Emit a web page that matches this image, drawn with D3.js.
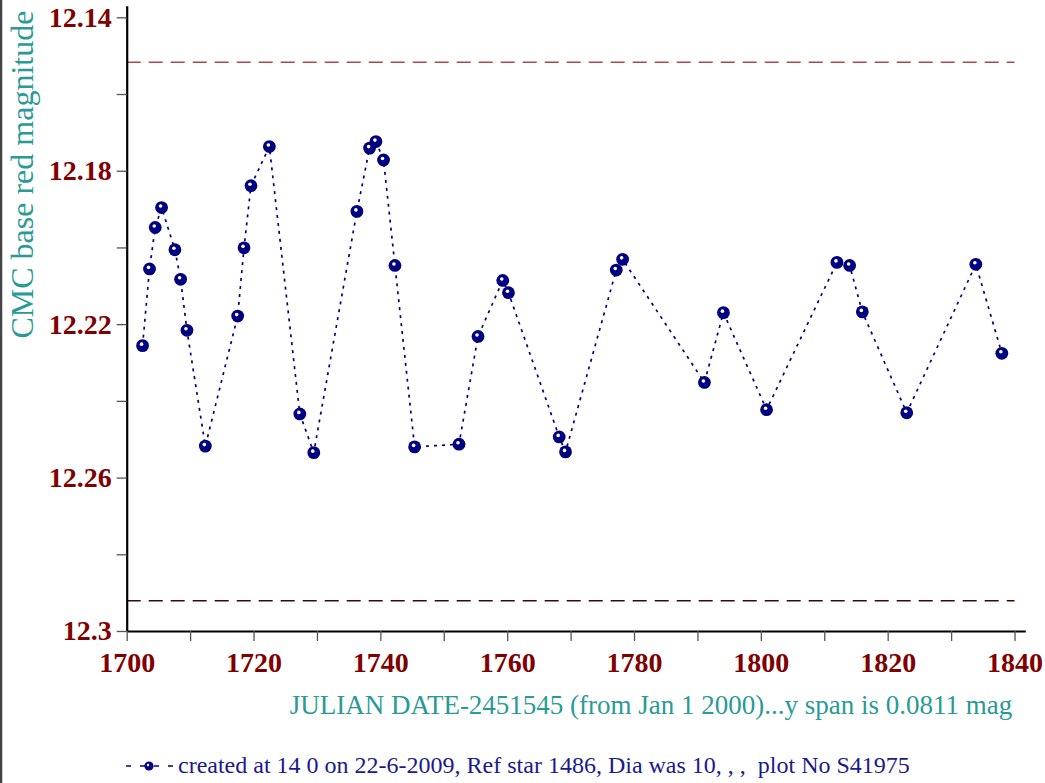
<!DOCTYPE html>
<html>
<head>
<meta charset="utf-8">
<script src="https://cdn.jsdelivr.net/npm/d3@7"></script>
<style>
  html, body { margin: 0; padding: 0; background: #fff; }
  svg { display: block; }
</style>
</head>
<body>
<svg id="chart" width="1045" height="783"></svg>
<script>
// ---- data ----
const julianDays = [1702.5, 1703.6, 1704.5, 1705.5, 1707.6, 1708.5, 1709.5, 1712.4,
  1717.5, 1718.5, 1719.6, 1722.5, 1727.3, 1729.5, 1736.3, 1738.3, 1739.3, 1740.5,
  1742.3, 1745.4, 1752.4, 1755.4, 1759.3, 1760.2, 1768.2, 1769.2, 1777.2, 1778.2,
  1791.1, 1794.1, 1800.9, 1812.0, 1814.0, 1816.0, 1823.0, 1833.9, 1838.0];
const magnitudes = [12.2256, 12.2056, 12.1948, 12.1896, 12.2006, 12.2083, 12.2216, 12.2518,
  12.2179, 12.2001, 12.1839, 12.1737, 12.2434, 12.2535, 12.1906, 12.1741, 12.1724, 12.1772,
  12.2047, 12.2520, 12.2513, 12.2232, 12.2086, 12.2118, 12.2494, 12.2533, 12.2059, 12.2031,
  12.2352, 12.2170, 12.2423, 12.2039, 12.2047, 12.2168, 12.2431, 12.2044, 12.2276];
const upperLimit = 12.1517;
const lowerLimit = 12.2921;
const yTickValues = [12.14, 12.16, 12.18, 12.20, 12.22, 12.24, 12.26, 12.28, 12.30];
const yTickLabels = ["12.14", "", "12.18", "", "12.22", "", "12.26", "", "12.3"];
const xTickValues = [1700, 1710, 1720, 1730, 1740, 1750, 1760, 1770, 1780, 1790, 1800, 1810, 1820, 1830, 1840];
const xTickLabels = ["1700", "", "1720", "", "1740", "", "1760", "", "1780", "", "1800", "", "1820", "", "1840"];
const yTitle = "CMC base red magnitude";
const xTitle = "JULIAN DATE-2451545 (from Jan 1 2000)...y span is 0.0811 mag";
const legendText = "created at 14 0 on 22-6-2009, Ref star 1486, Dia was 10, , ,  plot No S41975";

const points = julianDays.map((d, i) => ({ jd: d, mag: magnitudes[i] }));

// ---- layout ----
const svg = d3.select("#chart");
const serif = "'Liberation Serif', 'Times New Roman', serif";
const labelColor = "#800000";
const titleColor = "#2a9a94";
const navy = "#000080";

const x = d3.scaleLinear().domain([1700, 1841.7]).range([126.7, 1025.3]);
const y = d3.scaleLinear().domain([12.137, 12.30]).range([5.8, 631]);

// left frame line
svg.append("line")
  .attr("x1", 1).attr("x2", 1).attr("y1", 0).attr("y2", 783)
  .attr("stroke", "#444").attr("stroke-width", 2.5);

// reference dashed lines
svg.append("line")
  .attr("x1", x(1700)).attr("x2", x(1840))
  .attr("y1", y(upperLimit)).attr("y2", y(upperLimit))
  .attr("stroke", "#a84a4a").attr("stroke-width", 1.4)
  .attr("stroke-dasharray", "14,8");
svg.append("line")
  .attr("x1", x(1700)).attr("x2", x(1840))
  .attr("y1", y(lowerLimit)).attr("y2", y(lowerLimit))
  .attr("stroke", "#3a0808").attr("stroke-width", 1.4)
  .attr("stroke-dasharray", "14,8");

// axes
const yAxis = d3.axisLeft(y).tickValues(yTickValues).tickSize(10).tickSizeOuter(0)
  .tickPadding(5).tickFormat((d, i) => yTickLabels[i]);
const xAxis = d3.axisBottom(x).tickValues(xTickValues).tickSize(10).tickSizeOuter(0)
  .tickPadding(11).tickFormat((d, i) => xTickLabels[i]);

function styleAxis(g) {
  g.select(".domain").attr("stroke", "#000").attr("stroke-width", 2.2);
  g.selectAll(".tick line").attr("stroke", "#555").attr("stroke-width", 1.3);
  g.selectAll(".tick text")
    .attr("fill", labelColor)
    .style("font-family", serif)
    .style("font-weight", "bold")
    .style("font-size", "28px");
}
svg.append("g").attr("transform", `translate(${x(1700)},0)`).call(yAxis).call(styleAxis);
svg.append("g").attr("transform", `translate(0,${y(12.30)})`).call(xAxis).call(styleAxis);

// titles
svg.append("text")
  .attr("transform", `translate(33,${(y(12.137) + y(12.225)) / 2 + 0}) rotate(-90)`)
  .attr("text-anchor", "middle")
  .attr("fill", titleColor)
  .style("font-family", serif)
  .style("font-size", "32px")
  .text(yTitle);

svg.append("text")
  .attr("x", 651).attr("y", 714)
  .attr("text-anchor", "middle")
  .attr("fill", titleColor)
  .style("font-family", serif)
  .style("font-size", "27px")
  .text(xTitle);

// data line
const line = d3.line().x(d => x(d.jd)).y(d => y(d.mag));
svg.append("path")
  .datum(points)
  .attr("d", line)
  .attr("fill", "none")
  .attr("stroke", navy)
  .attr("stroke-width", 1.7)
  .attr("stroke-dasharray", "3,5");

// markers
const mk = svg.append("g").selectAll("g").data(points).join("g")
  .attr("transform", d => `translate(${x(d.jd)},${y(d.mag)})`);
mk.append("circle").attr("r", 6.4).attr("fill", navy);
mk.append("circle").attr("r", 1.8).attr("cx", -1).attr("cy", -1.5).attr("fill", "#fff");

// legend
const lg = svg.append("g").attr("transform", "translate(0,766)");
lg.append("line").attr("x1", 126).attr("x2", 176).attr("y1", 0).attr("y2", 0)
  .attr("stroke", navy).attr("stroke-width", 1.6).attr("stroke-dasharray", "5,9");
lg.append("circle").attr("cx", 149).attr("cy", 0).attr("r", 4.6).attr("fill", navy);
lg.append("circle").attr("cx", 148).attr("cy", -1).attr("r", 1.2).attr("fill", "#fff");
lg.append("text")
  .attr("x", 178).attr("y", 7)
  .attr("fill", "#1a1a8a")
  .style("font-family", serif)
  .style("font-size", "24px")
  .style("white-space", "pre")
  .text(legendText);
</script>
</body>
</html>
